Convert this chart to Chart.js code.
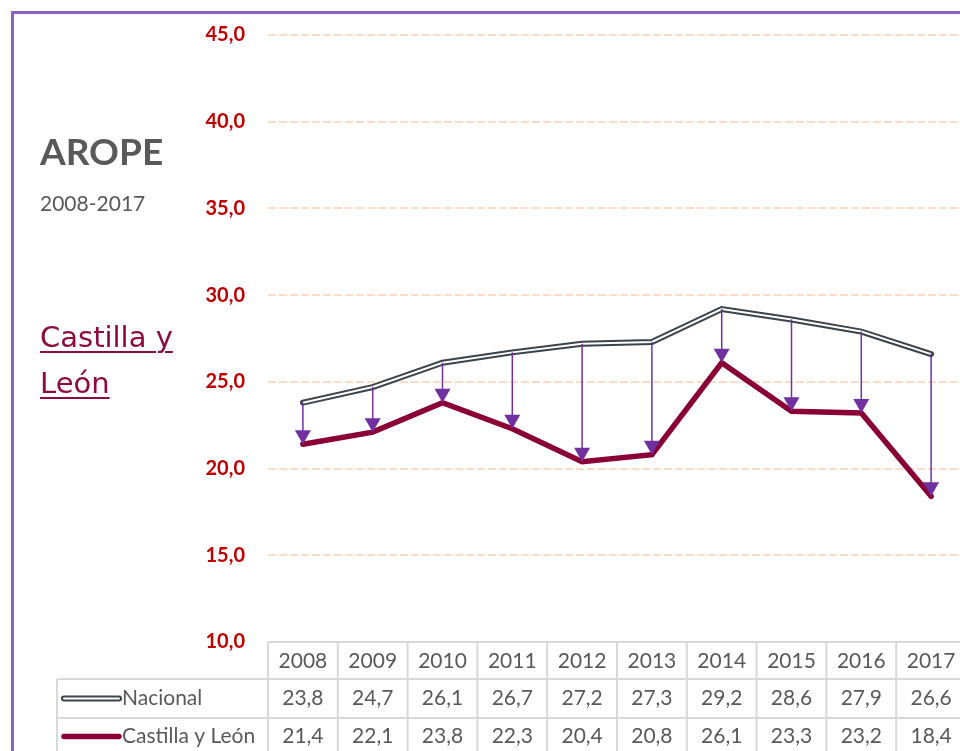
<!DOCTYPE html>
<html lang="es">
<head>
<meta charset="utf-8">
<title>AROPE 2008-2017 Castilla y León</title>
<script src="https://cdn.jsdelivr.net/npm/chart.js@4.4.1/dist/chart.umd.min.js"></script>
<style>
  html, body { margin: 0; padding: 0; background: #fff; }
  body { width: 960px; height: 751px; overflow: hidden; position: relative; }
  #marco { position: absolute; left: 11px; top: 11px; width: 1000px; height: 800px;
           border: 3px solid #8c63c4; box-sizing: border-box; }
  #lienzo { position: absolute; left: 0; top: 0; }
  .txt { position: absolute; white-space: nowrap; }
  #titulo { left: 40px; top: 132px; font: bold 37px Lato, sans-serif; line-height: 37px; color: #595959; }
  #periodo { left: 40px; top: 192px; font: 21px Lato, sans-serif; line-height: 21px; color: #595959; }
  #region { left: 40px; top: 314px; font: 29px "DejaVu Sans", sans-serif; line-height: 46px; color: #8c0b42;
            text-decoration: underline; text-decoration-thickness: 2px; text-underline-offset: 4px; }
</style>
</head>
<body>
<div id="marco"></div>
<canvas id="lienzo" width="980" height="751"></canvas>
<div class="txt" id="titulo">AROPE</div>
<div class="txt" id="periodo">2008-2017</div>
<div class="txt" id="region">Castilla y<br>León</div>

<script>
/********** DATOS **********/
const years = ['2008', '2009', '2010', '2011', '2012', '2013', '2014', '2015', '2016', '2017'];
const nacional = [23.8, 24.7, 26.1, 26.7, 27.2, 27.3, 29.2, 28.6, 27.9, 26.6];
const castilla = [21.4, 22.1, 23.8, 22.3, 20.4, 20.8, 26.1, 23.3, 23.2, 18.4];
const seriesNames = ['Nacional', 'Castilla y León'];

/********** COLORES **********/
const GRIS_OSC = '#3a444c';
const GRANATE = '#8a0036';
const MORADO = '#7030a0';
const TABLA = '#d9d9d9';
const TEXTO = '#595959';

const fmt = v => v.toFixed(1).replace('.', ',');

/********** FLECHAS nacional -> region **********/
const flechas = {
  id: 'flechas',
  afterDatasetsDraw(chart) {
    const ctx = chart.ctx;
    const xs = chart.scales.x, ys = chart.scales.y;
    ctx.save();
    nacional.forEach((v, i) => {
      const x = xs.getPixelForValue(i);
      const y1 = ys.getPixelForValue(v);
      const y2 = ys.getPixelForValue(castilla[i]);
      const h = 14, w = 8;
      ctx.strokeStyle = MORADO;
      ctx.lineWidth = 1.5;
      ctx.beginPath();
      ctx.moveTo(x, y1);
      ctx.lineTo(x, y2 - h + 1);
      ctx.stroke();
      ctx.fillStyle = MORADO;
      ctx.beginPath();
      ctx.moveTo(x - w, y2 - h);
      ctx.lineTo(x + w, y2 - h);
      ctx.lineTo(x, y2);
      ctx.closePath();
      ctx.fill();
    });
    ctx.restore();
  }
};

/********** TABLA DE DATOS **********/
const tabla = {
  id: 'tabla',
  afterDraw(chart) {
    const ctx = chart.ctx;
    const xs = chart.scales.x;
    const area = chart.chartArea;
    const colW = (area.right - area.left) / years.length;
    const rows = [area.bottom, area.bottom + 37, area.bottom + 76, area.bottom + 115];
    const leftX = 57;

    ctx.save();
    ctx.strokeStyle = TABLA;
    ctx.lineWidth = 2;
    ctx.beginPath();
    // horizontales
    ctx.moveTo(area.left, rows[0]); ctx.lineTo(chart.width, rows[0]);
    ctx.moveTo(leftX, rows[1]); ctx.lineTo(chart.width, rows[1]);
    ctx.moveTo(leftX, rows[2]); ctx.lineTo(chart.width, rows[2]);
    // verticales
    for (let k = 0; k <= years.length; k++) {
      const x = area.left + k * colW;
      ctx.moveTo(x, rows[0]); ctx.lineTo(x, rows[3]);
    }
    ctx.moveTo(leftX, rows[1]); ctx.lineTo(leftX, rows[3]);
    ctx.stroke();

    // textos
    ctx.fillStyle = TEXTO;
    ctx.font = '21px Lato, sans-serif';
    ctx.textAlign = 'center';
    ctx.textBaseline = 'middle';
    years.forEach((y, i) => {
      const x = xs.getPixelForValue(i);
      ctx.fillText(y, x, (rows[0] + rows[1]) / 2 + 1);
      ctx.fillText(fmt(nacional[i]), x, (rows[1] + rows[2]) / 2);
      ctx.fillText(fmt(castilla[i]), x, (rows[2] + rows[3]) / 2 - 1);
    });

    // leyenda
    const ly1 = (rows[1] + rows[2]) / 2, ly2 = (rows[2] + rows[3]) / 2 - 1;
    ctx.lineCap = 'round';
    ctx.strokeStyle = GRIS_OSC;
    ctx.lineWidth = 6;
    ctx.beginPath(); ctx.moveTo(64, ly1); ctx.lineTo(119, ly1); ctx.stroke();
    ctx.strokeStyle = '#ffffff';
    ctx.lineWidth = 2;
    ctx.beginPath(); ctx.moveTo(64, ly1); ctx.lineTo(119, ly1); ctx.stroke();
    ctx.strokeStyle = GRANATE;
    ctx.lineWidth = 5.5;
    ctx.beginPath(); ctx.moveTo(64, ly2); ctx.lineTo(119, ly2); ctx.stroke();

    ctx.textAlign = 'left';
    ctx.fillStyle = TEXTO;
    ctx.fillText(seriesNames[0], 122, ly1);
    ctx.fillText(seriesNames[1], 122, ly2);
    ctx.restore();
  }
};

/********** GRAFICO **********/
new Chart(document.getElementById('lienzo').getContext('2d'), {
  type: 'line',
  data: {
    labels: years,
    datasets: [
      { label: seriesNames[0], data: nacional, borderColor: GRIS_OSC, borderWidth: 6,
        pointRadius: 0, tension: 0, borderJoinStyle: 'miter', borderCapStyle: 'round', order: 3 },
      { label: seriesNames[0] + ' (interior)', data: nacional, borderColor: '#ffffff', borderWidth: 2,
        pointRadius: 0, tension: 0, borderJoinStyle: 'miter', order: 2 },
      { label: seriesNames[1], data: castilla, borderColor: GRANATE, borderWidth: 5.5,
        pointRadius: 0, tension: 0, borderJoinStyle: 'miter', borderCapStyle: 'round', order: 1 }
    ]
  },
  options: {
    responsive: false,
    animation: false,
    devicePixelRatio: 1,
    layout: { padding: { left: 0, top: 35, right: 14, bottom: 109 } },
    plugins: { legend: { display: false }, tooltip: { enabled: false } },
    scales: {
      x: { type: 'category', offset: true, display: false },
      y: {
        min: 10, max: 45,
        afterFit: s => { s.width = 268; },
        border: { display: false, dash: [8, 3] },
        grid: {
          drawTicks: false,
          lineWidth: 2,
          color: c => (c.tick && c.tick.value === 10) ? 'rgba(0,0,0,0)' : '#fbdcc6'
        },
        ticks: {
          stepSize: 5,
          padding: 23,
          color: '#c00000',
          font: { family: 'Lato', size: 20, weight: 'bold' },
          callback: v => fmt(v)
        }
      }
    }
  },
  plugins: [flechas, tabla]
});
</script>
</body>
</html>
